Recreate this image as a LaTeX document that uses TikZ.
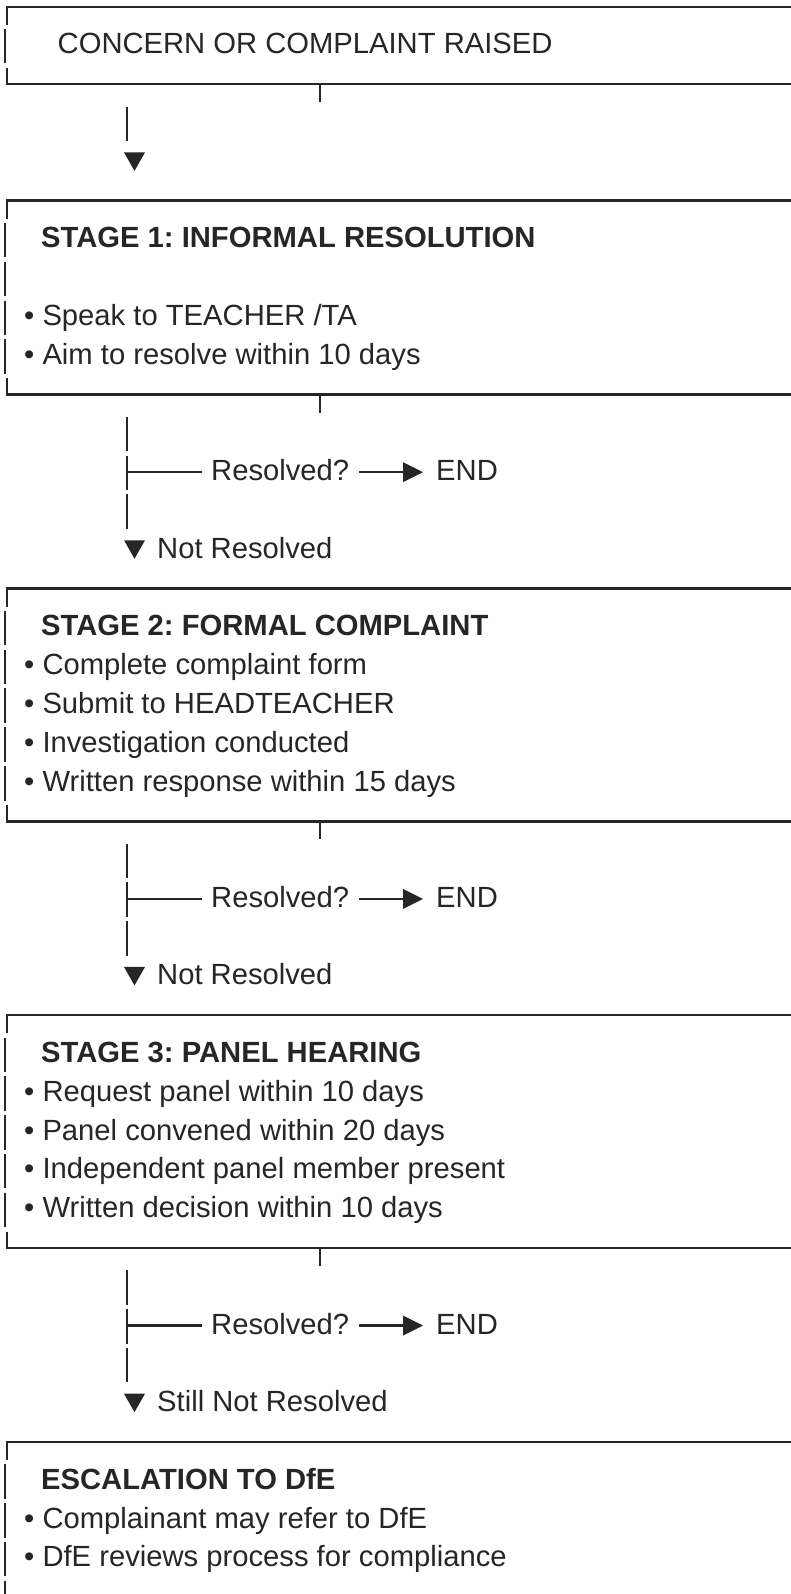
\documentclass[tikz,border=0pt]{standalone}
\usepackage{fontspec}
\setmainfont{Liberation Sans}
\usepackage{xcolor}
\usetikzlibrary{positioning, calc}
\frenchspacing

\definecolor{ink}{HTML}{262626}
% baseline of text row #1 (rows of the chart are evenly spaced)
\newcommand{\rowy}[1]{(54+38.79*(#1))}

\begin{document}
\begin{tikzpicture}[
    x=1pt, y=-1pt,
    color=ink,
    line width=2.4pt,
    txt/.style={
        anchor=base west,
        inner sep=0pt,
        font=\fontsize{29.2}{35}\selectfont
    },
    head/.style={txt, font=\fontsize{29.2}{35}\selectfont\bfseries}
]

\fill[white] (0,0) rectangle (791,1594);
\useasboundingbox (0,0) rectangle (791,1594);
\clip (0,0) rectangle (791,1594);

% --- Box texts ---
\node[txt] (raised) at (56.5,{\rowy{0}}) {CONCERN OR COMPLAINT RAISED};

\node[head] (s1) at (40,{\rowy{5}}) {STAGE 1: INFORMAL RESOLUTION};
\node[txt] (s1a) at (23,{\rowy{7}}) {• Speak to TEACHER /TA};
\node[txt] (s1b) at (23,{\rowy{8}}) {• Aim to resolve within 10 days};

\node[head] (s2) at (40,{\rowy{15}}) {STAGE 2: FORMAL COMPLAINT};
\node[txt] (s2a) at (23,{\rowy{16}}) {• Complete complaint form};
\node[txt] (s2b) at (23,{\rowy{17}}) {• Submit to HEADTEACHER};
\node[txt] (s2c) at (23,{\rowy{18}}) {• Investigation conducted};
\node[txt] (s2d) at (23,{\rowy{19}}) {• Written response within 15 days};

\node[head] (s3) at (40,{\rowy{26}}) {STAGE 3: PANEL HEARING};
\node[txt] (s3a) at (23,{\rowy{27}}) {• Request panel within 10 days};
\node[txt] (s3b) at (23,{\rowy{28}}) {• Panel convened within 20 days};
\node[txt] (s3c) at (23,{\rowy{29}}) {• Independent panel member present};
\node[txt] (s3d) at (23,{\rowy{30}}) {• Written decision within 10 days};

\node[head] (dfe) at (40,{\rowy{37}}) {ESCALATION TO DfE};
\node[txt] (dfea) at (23,{\rowy{38}}) {• Complainant may refer to DfE};
\node[txt] (dfeb) at (23,{\rowy{39}}) {• DfE reviews process for compliance};

% --- Box frames (open to the right) ---
\foreach \t/\b in {-1/1, 4/9, 14/20, 25/31} {
    \pgfmathtruncatemacro\first{\t+1}
    \pgfmathtruncatemacro\last{\b-1}
    \draw (7,{\rowy{\t}+9.5}) |- (791,{\rowy{\t}-8.5});
    \draw (7,{\rowy{\b}-25}) |- (791,{\rowy{\b}-8.5});
    \draw (320,{\rowy{\b}-8.5}) -- ++(0,18);
    \foreach \k in {\first,...,\last}
        \draw (5,{\rowy{\k}-25}) -- ++(0,34.5);
}
\draw (7,{\rowy{36}+9.5}) |- (791,{\rowy{36}-8.5});
\foreach \k in {37,...,40}
    \draw (5,{\rowy{\k}-25}) -- ++(0,34.5);

% --- First arrow ---
\coordinate (a0) at (127,{\rowy{2}-25});
\draw (a0) -- ++(0,34.5);
\fill (124,{\rowy{3}-18}) -- ++(21,0) -- (134.5,{\rowy{3}+0.5}) -- cycle;

% --- Resolved? branches ---
\foreach \k/\lbl in {9/Not Resolved, 20/Not Resolved, 31/Still Not Resolved} {
    \node[txt] (res\k) at (210,{\rowy{\k+2}}) {Resolved?};
    \node[txt] (end\k) at (435,{\rowy{\k+2}}) {END};
    \node[txt] (nr\k) at (156,{\rowy{\k+4}}) {\lbl};
    \coordinate (up\k) at (127,{\rowy{\k+1}-25});
    \coordinate (j\k) at (127,{\rowy{\k+2}-8.5});
    \coordinate (dn\k) at (127,{\rowy{\k+3}-25});
    \draw (up\k) -- ++(0,34.5);
    \draw ($(j\k)+(0,-16.5)$) -- ++(0,34.5);
    \draw (j\k) -- ($(res\k.base west)+(-8,-8.5)$);
    \draw ($(res\k.base east)+(9,-8.5)$) -- ($(end\k.base west)+(-32,-8.5)$);
    \fill ($(end\k.base west)+(-32,-18.5)$) -- ($(end\k.base west)+(-12,-8.5)$)
        -- ($(end\k.base west)+(-32,1.5)$) -- cycle;
    \draw (dn\k) -- ++(0,34.5);
    \fill ($(nr\k.base west)+(-32,-18)$) -- ++(21,0)
        -- ($(nr\k.base west)+(-21.5,0.5)$) -- cycle;
}

\end{tikzpicture}
\end{document}
